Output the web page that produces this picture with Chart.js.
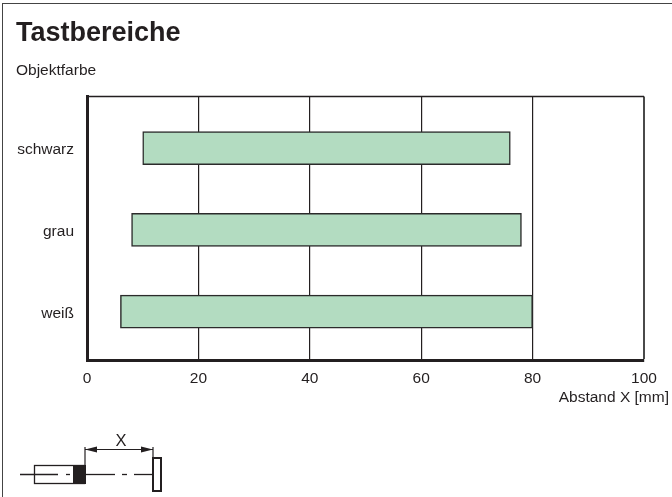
<!DOCTYPE html>
<html lang="de">
<head>
<meta charset="utf-8">
<title>Tastbereiche</title>
<script src="https://cdn.jsdelivr.net/npm/chart.js@4"></script>
<style>
html, body { margin: 0; padding: 0; background: #fff; }
#wrap { position: relative; width: 672px; height: 497px; overflow: hidden; }
#frame { position: absolute; left: 2px; top: 3px; width: 672px; height: 500px; border: 1px solid #444; }
#sketch { position: absolute; left: 0; top: 380px; }
</style>
</head>
<body>
<div id="wrap">
    <div id="frame"></div>
    <canvas id="rangeChart" width="672" height="497" style="position:absolute;left:0;top:0"></canvas>
    <!-- Sensor-Skizze unter dem Diagramm -->
    <svg id="sketch" width="220" height="117" fill="none" stroke="#231f20">
        <line x1="20" y1="94.5" x2="58" y2="94.5" stroke-width="1.3"/>
        <line x1="66" y1="94.5" x2="70" y2="94.5" stroke-width="1.3"/>
        <rect x="34.5" y="85.5" width="50" height="18" stroke-width="1.3"/>
        <rect x="73" y="85" width="13" height="19" fill="#231f20" stroke="none"/>
        <line x1="86" y1="94.5" x2="115" y2="94.5" stroke-width="1.3"/>
        <line x1="122" y1="94.5" x2="127" y2="94.5" stroke-width="1.3"/>
        <line x1="134" y1="94.5" x2="152" y2="94.5" stroke-width="1.3"/>
        <rect x="153" y="78" width="8" height="33" stroke-width="2"/>
        <line x1="85" y1="85" x2="85" y2="67" stroke-width="1.2"/>
        <line x1="153" y1="78" x2="153" y2="67" stroke-width="1.2"/>
        <line x1="85" y1="69.5" x2="153" y2="69.5" stroke-width="1.2"/>
        <polygon points="85,69.5 97,66.5 97,72.5" fill="#231f20" stroke="none"/>
        <polygon points="153,69.5 141,66.5 141,72.5" fill="#231f20" stroke="none"/>
        <text x="121" y="66" text-anchor="middle" fill="#231f20" stroke="none" font-family="Liberation Sans" font-size="16.5">X</text>
    </svg>
</div>
<script>
const categories = ['schwarz', 'grau', 'weiß'];
const rangeStart = [10, 8, 6];
const rangeEnd = [76, 78, 80];
const xTicks = [0, 20, 40, 60, 80, 100];

const FONT = '"Liberation Sans", Arial, sans-serif';
const INK = '#231f20';

// obere Linie des Diagramms und Achsentitel rechts unten
const extras = {
    id: 'extras',
    afterDraw(chart) {
        const { ctx, chartArea } = chart;
        ctx.save();
        ctx.strokeStyle = INK;
        ctx.lineWidth = 1.5;
        ctx.beginPath();
        ctx.moveTo(chartArea.left, chartArea.top);
        ctx.lineTo(chartArea.right, chartArea.top);
        ctx.stroke();
        ctx.fillStyle = INK;
        ctx.font = '15.5px ' + FONT;
        ctx.textAlign = 'right';
        ctx.textBaseline = 'middle';
        ctx.fillText('Abstand X [mm]', chartArea.right + 25, chartArea.bottom + 38);
        ctx.restore();
    }
};

const ctx = document.getElementById('rangeChart').getContext('2d');
new Chart(ctx, {
    type: 'bar',
    plugins: [extras],
    data: {
        datasets: [{
            data: categories.map((c, i) => ({ x: [rangeStart[i], rangeEnd[i]], y: i + 1 })),
            backgroundColor: '#b3dcc1',
            borderColor: '#2b2b2b',
            borderWidth: 1.5,
            borderSkipped: false,
            barThickness: 33
        }]
    },
    options: {
        indexAxis: 'y',
        responsive: false,
        animation: false,
        layout: { padding: { left: 16, right: 28, top: 0, bottom: 0 } },
        plugins: {
            legend: { display: false },
            tooltip: { enabled: false },
            title: {
                display: true,
                text: 'Tastbereiche',
                align: 'start',
                color: INK,
                font: { family: FONT, size: 27, weight: 'bold' },
                padding: { top: 17, bottom: 12 }
            },
            subtitle: {
                display: true,
                text: 'Objektfarbe',
                align: 'start',
                color: INK,
                font: { family: FONT, size: 15.5 },
                padding: { top: 0, bottom: 16.4 }
            }
        },
        scales: {
            x: {
                type: 'linear',
                min: 0,
                max: 100,
                afterBuildTicks: axis => { axis.ticks = xTicks.map(v => ({ value: v })); },
                afterFit: axis => { axis.height = 137; },
                grid: {
                    color: c => (c.tick.value === 100 ? '#4a4a4a' : INK),
                    lineWidth: c => (c.tick.value === 100 ? 2 : 1.2),
                    drawTicks: false
                },
                border: { color: INK, width: 3 },
                ticks: { color: INK, padding: 9, maxRotation: 0, font: { family: FONT, size: 15.5 } }
            },
            y: {
                type: 'linear',
                reverse: true,
                offset: false,
                min: 0.366,
                max: 3.593,
                afterBuildTicks: axis => { axis.ticks = categories.map((c, i) => ({ value: i + 1 })); },
                afterFit: axis => { axis.width = 71; },
                grid: { display: false },
                border: { color: INK, width: 3 },
                ticks: {
                    color: INK,
                    padding: 5,
                    labelOffset: 2,
                    font: { family: FONT, size: 15.5 },
                    callback: v => categories[v - 1]
                }
            }
        }
    }
});
</script>
</body>
</html>
